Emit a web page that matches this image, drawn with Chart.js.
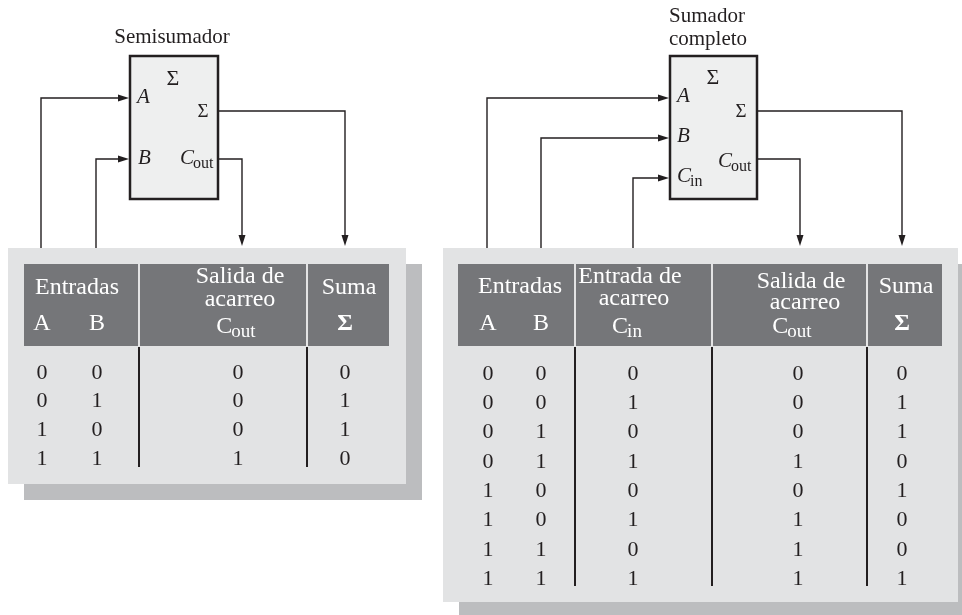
<!DOCTYPE html>
<html>
<head>
<meta charset="utf-8">
<script src="https://cdn.jsdelivr.net/npm/chart.js@4.4.1/dist/chart.umd.min.js"></script>
<style>
  body { margin: 0; background: #fff; }
  #diagram { display: block; }
</style>
</head>
<body>
<canvas id="diagram" width="962" height="615"></canvas>
<script>
// truth table data
const halfA = [0, 0, 1, 1];
const halfB = [0, 1, 0, 1];
const halfCout = [0, 0, 0, 1];
const halfSum = [0, 1, 1, 0];

const fullA = [0, 0, 0, 0, 1, 1, 1, 1];
const fullB = [0, 0, 1, 1, 0, 0, 1, 1];
const fullCin = [0, 1, 0, 1, 0, 1, 0, 1];
const fullCout = [0, 0, 0, 1, 0, 1, 1, 1];
const fullSum = [0, 1, 1, 0, 1, 0, 0, 1];

const halfTitle = ['Semisumador'];
const fullTitle = ['Sumador', 'completo'];

// layout (in canvas units, mapped through the chart's scales)
const layout = {
    half: {
        panel: [8, 248, 398, 236],
        header: [24, 264, 365, 82],
        dividers: [139, 307],
        cols: [42, 97, 238, 345],
        rowTop: 372, rowStep: 28.7, bodyBottom: 467,
        box: [130, 56, 88, 143]
    },
    full: {
        panel: [443, 248, 515, 354],
        header: [458, 264, 484, 82],
        dividers: [575, 712, 867],
        cols: [488, 541, 633, 798, 902],
        rowTop: 373, rowStep: 29.3, bodyBottom: 586,
        box: [670, 56, 87, 143]
    }
};

const SERIF = '"Liberation Serif", "DejaVu Serif", serif';
const INK = '#231f20';

function columnSet(values, key, col, t) {
    return {
        label: key,
        values: values,
        data: values.map((v, i) => ({ x: t.cols[col], y: t.rowTop + i * t.rowStep })),
        pointRadius: 0,
        showLine: false
    };
}

const datasets = [
    columnSet(halfA, 'A', 0, layout.half),
    columnSet(halfB, 'B', 1, layout.half),
    columnSet(halfCout, 'Cout', 2, layout.half),
    columnSet(halfSum, 'Suma', 3, layout.half),
    columnSet(fullA, 'A', 0, layout.full),
    columnSet(fullB, 'B', 1, layout.full),
    columnSet(fullCin, 'Cin', 2, layout.full),
    columnSet(fullCout, 'Cout', 3, layout.full),
    columnSet(fullSum, 'Suma', 4, layout.full)
];

function subText(ctx, main, sub, x, y, size, italic, align) {
    const mainFont = (italic ? 'italic ' : '') + size + 'px ' + SERIF;
    const subFont = Math.round(size * 0.78) + 'px ' + SERIF;
    ctx.font = mainFont;
    const w1 = ctx.measureText(main).width;
    ctx.font = subFont;
    const w2 = ctx.measureText(sub).width;
    let x0 = x;
    if (align === 'center') x0 = x - (w1 + w2 - 1) / 2;
    ctx.textAlign = 'left';
    ctx.font = mainFont;
    ctx.fillText(main, x0, y);
    ctx.font = subFont;
    ctx.fillText(sub, x0 + w1 - 1, y + size * 0.18);
}

const diagramPlugin = {
    id: 'diagram',
    beforeDatasetsDraw(chart) {
        const ctx = chart.ctx;
        const px = v => chart.scales.x.getPixelForValue(v);
        const py = v => chart.scales.y.getPixelForValue(v);
        const rect = (r, color) => {
            ctx.fillStyle = color;
            ctx.fillRect(px(r[0]), py(r[1]), px(r[0] + r[2]) - px(r[0]), py(r[1] + r[3]) - py(r[1]));
        };
        const line = (pts, w, color) => {
            ctx.beginPath();
            ctx.moveTo(px(pts[0][0]), py(pts[0][1]));
            for (let i = 1; i < pts.length; i++) ctx.lineTo(px(pts[i][0]), py(pts[i][1]));
            ctx.lineWidth = w;
            ctx.strokeStyle = color;
            ctx.stroke();
        };
        const arrow = (x, y, dir) => {
            ctx.beginPath();
            const X = px(x), Y = py(y);
            if (dir === 'right') {
                ctx.moveTo(X, Y); ctx.lineTo(X - 11, Y - 3.5); ctx.lineTo(X - 11, Y + 3.5);
            } else {
                ctx.moveTo(X, Y); ctx.lineTo(X - 3.5, Y - 11); ctx.lineTo(X + 3.5, Y - 11);
            }
            ctx.closePath();
            ctx.fillStyle = INK;
            ctx.fill();
        };
        const text = (s, x, y, font, color, align) => {
            ctx.font = font;
            ctx.fillStyle = color;
            ctx.textAlign = align || 'center';
            ctx.textBaseline = 'alphabetic';
            ctx.fillText(s, px(x), py(y));
        };

        ctx.save();
        // panels with drop shadow
        [layout.half, layout.full].forEach(t => {
            const p = t.panel;
            rect([p[0] + 16, p[1] + 16, p[2], p[3]], '#bcbdbf');
            rect(p, '#e2e3e4');
            rect(t.header, '#757679');
            t.dividers.forEach(d => {
                line([[d, t.header[1]], [d, t.header[1] + t.header[3]]], 1.6, '#ffffff');
                line([[d, t.header[1] + t.header[3] + 1], [d, t.bodyBottom]], 2, INK);
            });
        });

        // header texts
        const hf = '24px ' + SERIF;
        const W = '#ffffff';
        const h = layout.half, f = layout.full;
        text('Entradas', 77, 294, hf, W);
        text('A', h.cols[0], 330, hf, W);
        text('B', h.cols[1], 330, hf, W);
        text('Salida de', 240, 283, hf, W);
        text('acarreo', 240, 306, hf, W);
        ctx.fillStyle = W;
        subText(ctx, 'C', 'out', px(236), py(333), 24, false, 'center');
        text('Suma', 349, 294, hf, W);
        text('\u03A3', 345, 330, 'bold 24px ' + SERIF, W);

        text('Entradas', 520, 293, hf, W);
        text('A', f.cols[0], 330, hf, W);
        text('B', f.cols[1], 330, hf, W);
        text('Entrada de', 630, 283, hf, W);
        text('acarreo', 634, 305, hf, W);
        ctx.fillStyle = W;
        subText(ctx, 'C', 'in', px(627), py(333), 24, false, 'center');
        text('Salida de', 801, 288, hf, W);
        text('acarreo', 805, 309, hf, W);
        ctx.fillStyle = W;
        subText(ctx, 'C', 'out', px(792), py(333), 24, false, 'center');
        text('Suma', 906, 293, hf, W);
        text('\u03A3', f.cols[4], 330, 'bold 24px ' + SERIF, W);

        // blocks
        [h.box, f.box].forEach(b => {
            rect(b, '#eeefef');
            ctx.lineWidth = 2.5;
            ctx.strokeStyle = INK;
            ctx.strokeRect(px(b[0]), py(b[1]), px(b[0] + b[2]) - px(b[0]), py(b[1] + b[3]) - py(b[1]));
        });

        // titles
        const tf = '21px ' + SERIF;
        text(halfTitle[0], 172, 43, tf, INK);
        text(fullTitle[0], 707, 22, tf, INK);
        text(fullTitle[1], 708, 45, tf, INK);

        // half adder block labels
        const it = 'italic 21px ' + SERIF;
        const big = '22px ' + SERIF;
        const sm = '19px ' + SERIF;
        text('\u03A3', 173, 85, big, INK);
        text('A', 137, 103, it, INK, 'left');
        text('B', 138, 164, it, INK, 'left');
        text('\u03A3', 203, 117, sm, INK);
        ctx.fillStyle = INK;
        subText(ctx, 'C', 'out', px(180), py(164), 21, true, 'left');

        // full adder block labels
        text('\u03A3', 713, 84, big, INK);
        text('A', 677, 102, it, INK, 'left');
        text('B', 677, 142, it, INK, 'left');
        ctx.fillStyle = INK;
        subText(ctx, 'C', 'in', px(677), py(182), 21, true, 'left');
        text('\u03A3', 741, 117, sm, INK);
        ctx.fillStyle = INK;
        subText(ctx, 'C', 'out', px(718), py(167), 21, true, 'left');

        // wiring: half adder
        const lw = 1.4;
        const top = 248;
        line([[41, top], [41, 98], [124, 98]], lw, INK); arrow(129, 98, 'right');
        line([[96, top], [96, 159], [124, 159]], lw, INK); arrow(129, 159, 'right');
        line([[219, 111], [h.cols[3], 111], [h.cols[3], 240]], lw, INK); arrow(h.cols[3], 246, 'down');
        line([[219, 159], [242, 159], [242, 240]], lw, INK); arrow(242, 246, 'down');

        // wiring: full adder
        line([[487, top], [487, 98], [664, 98]], lw, INK); arrow(669, 98, 'right');
        line([[541, top], [541, 138], [664, 138]], lw, INK); arrow(669, 138, 'right');
        line([[633, top], [633, 178], [664, 178]], lw, INK); arrow(669, 178, 'right');
        line([[758, 111], [902, 111], [902, 240]], lw, INK); arrow(902, 246, 'down');
        line([[758, 159], [800, 159], [800, 240]], lw, INK); arrow(800, 246, 'down');
        ctx.restore();
    },
    afterDatasetsDraw(chart) {
        const ctx = chart.ctx;
        ctx.save();
        ctx.font = '22px ' + SERIF;
        ctx.fillStyle = INK;
        ctx.textAlign = 'center';
        ctx.textBaseline = 'middle';
        chart.data.datasets.forEach((ds, di) => {
            chart.getDatasetMeta(di).data.forEach((el, i) => {
                ctx.fillText(String(ds.values[i]), el.x, el.y + 1);
            });
        });
        ctx.restore();
    }
};

new Chart(document.getElementById('diagram').getContext('2d'), {
    type: 'scatter',
    data: { datasets: datasets },
    options: {
        responsive: false,
        animation: false,
        events: [],
        layout: { padding: 0 },
        scales: {
            x: { type: 'linear', min: 0, max: 962, display: false },
            y: { type: 'linear', min: 0, max: 615, reverse: true, display: false }
        },
        plugins: {
            legend: { display: false },
            tooltip: { enabled: false }
        }
    },
    plugins: [diagramPlugin]
});
</script>
</body>
</html>
